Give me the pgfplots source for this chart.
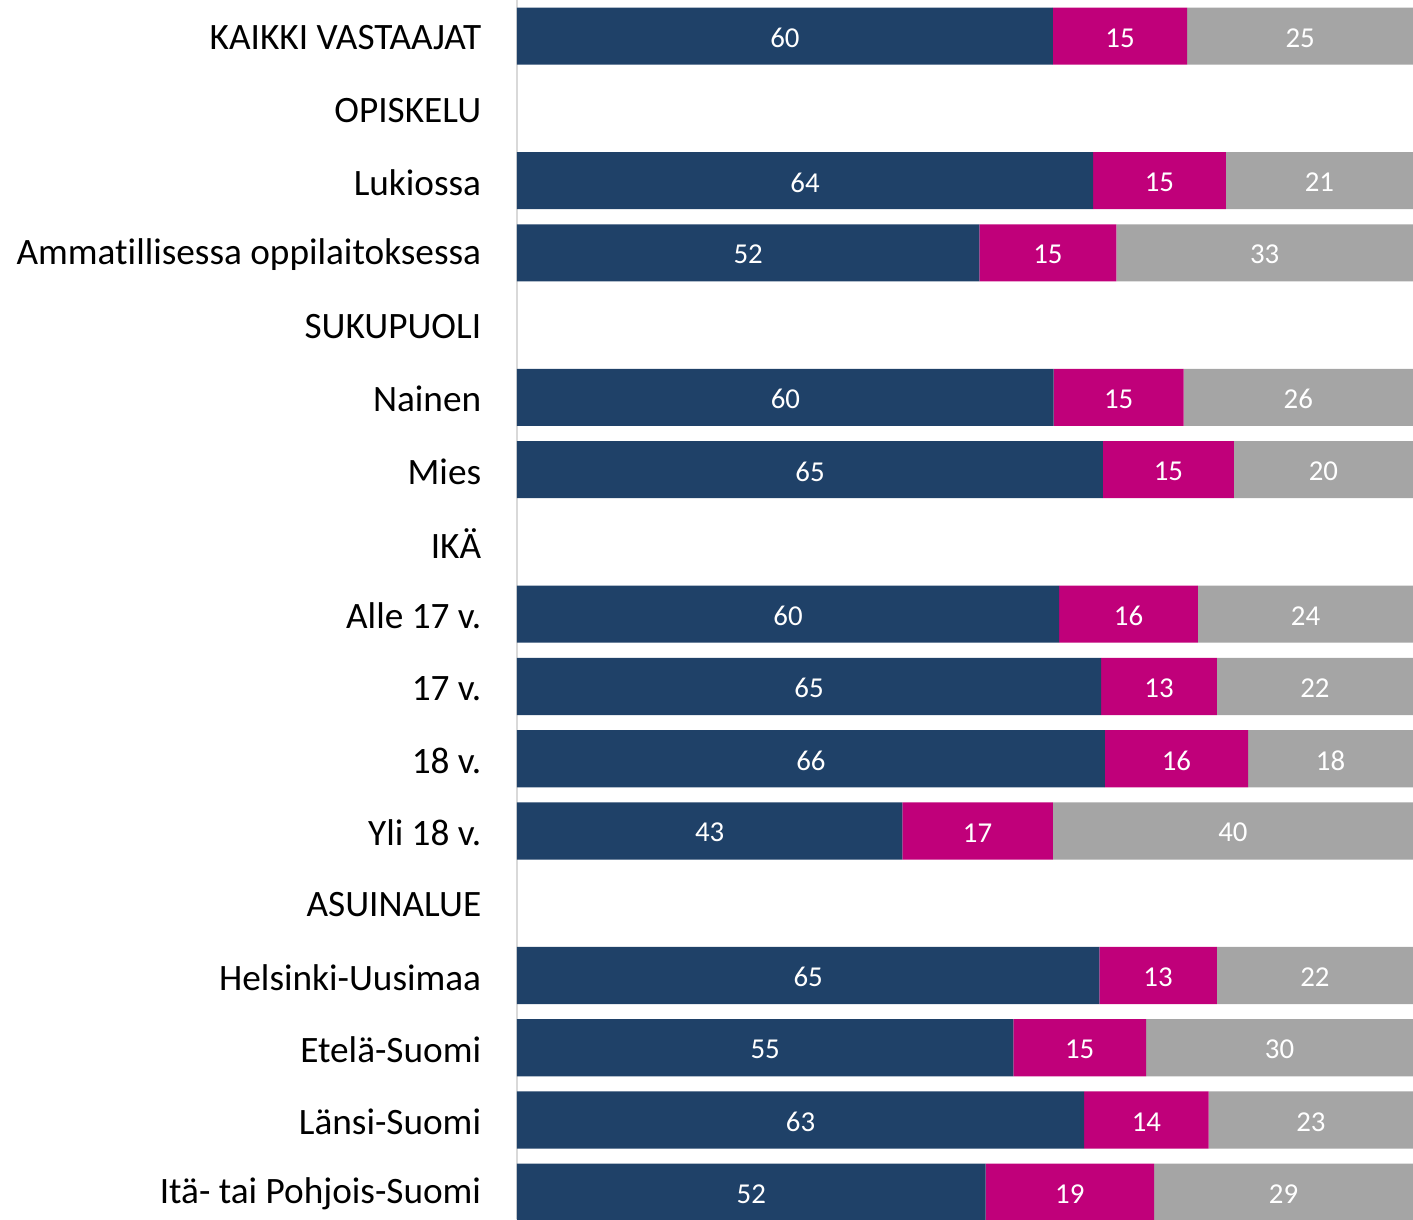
\documentclass[border=0pt]{standalone}
\usepackage{fontspec}
\setmainfont{Carlito}[Ligatures=NoCommon]
\usepackage{pgfplots}
\pgfplotsset{compat=1.18}
\definecolor{navy}{HTML}{1F4168}
\definecolor{magenta}{HTML}{C0007A}
\definecolor{midgray}{HTML}{A5A5A5}
\definecolor{axisgray}{HTML}{D9D9D9}

\begin{document}
\begin{tikzpicture}
\begin{axis}[
    xbar stacked,
    scale only axis,
    width=8.96cm, height=12.19cm,
    xmin=0, xmax=100,
    ymin=-0.5, ymax=16.37,
    y dir=reverse,
    bar width=0.79,
    axis x line=none,
    axis y line*=left,
    y axis line style={draw=axisgray, line width=0.6pt, -},
    ytick={0,...,16},
    yticklabels={KAIKKI VASTAAJAT, OPISKELU, Lukiossa, Ammatillisessa oppilaitoksessa,
        SUKUPUOLI, Nainen, Mies, IKÄ, Alle 17 v., 17 v., 18 v., Yli 18 v.,
        ASUINALUE, Helsinki-Uusimaa, Etelä-Suomi, Länsi-Suomi, Itä- tai Pohjois-Suomi},
    ytick style={draw=none},
    yticklabel style={font=\fontsize{10.6}{12}\selectfont, anchor=east, inner sep=0pt, xshift=-10pt, yshift=-0.5pt},
    point meta=explicit symbolic,
    nodes near coords,
    every node near coord/.append style={font=\fontsize{8.2}{9}\selectfont, text=white,
        anchor=center, yshift=-0.5pt},
]
\addplot[fill=navy, draw=none] coordinates {
    (59.8,0) [60] (64.3,2) [64] (51.6,3) [52] (59.9,5) [60] (65.4,6) [65]
    (60.5,8) [60] (65.2,9) [65] (65.6,10) [66] (43.0,11) [43]
    (65.0,13) [65] (55.4,14) [55] (63.3,15) [63] (52.3,16) [52]};
\addplot[fill=magenta, draw=none] coordinates {
    (15.0,0) [15] (14.8,2) [15] (15.3,3) [15] (14.5,5) [15] (14.6,6) [15]
    (15.5,8) [16] (12.9,9) [13] (16.0,10) [16] (16.8,11) [17]
    (13.1,13) [13] (14.8,14) [15] (13.9,15) [14] (18.8,16) [19]};
\addplot[fill=midgray, draw=none] coordinates {
    (25.2,0) [25] (20.9,2) [21] (33.1,3) [33] (25.6,5) [26] (20.0,6) [20]
    (24.0,8) [24] (21.9,9) [22] (18.4,10) [18] (40.2,11) [40]
    (21.9,13) [22] (29.8,14) [30] (22.8,15) [23] (28.9,16) [29]};
\end{axis}
\pgfresetboundingbox
\path[use as bounding box] ([xshift=-5.17cm]current axis.south west) rectangle (current axis.north east);
\end{tikzpicture}
\end{document}
